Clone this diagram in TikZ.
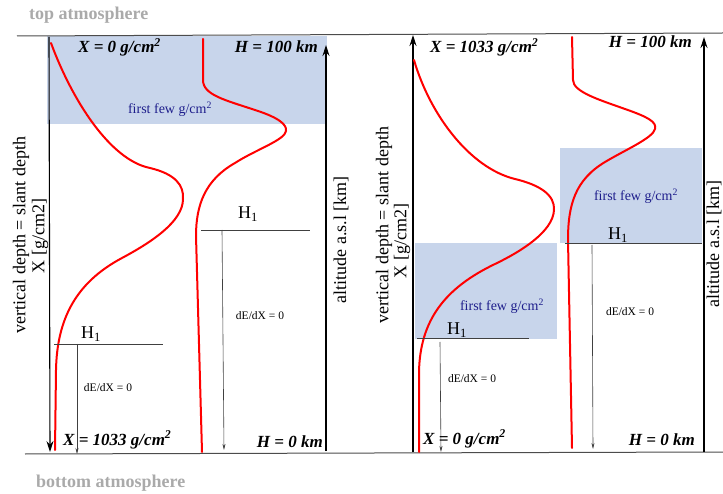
\documentclass[tikz,border=0pt]{standalone}
\usepackage{fontspec}
\setmainfont{Liberation Serif}
\usetikzlibrary{arrows.meta}

\definecolor{bandblue}{RGB}{200,213,235}
\definecolor{bandtext}{RGB}{30,30,140}
\definecolor{edgegray}{RGB}{170,170,170}

\begin{document}
\begin{tikzpicture}[
    x=1pt, y=-1pt,
    >=Stealth,
    % Styles for the drawing
    profile/.style={draw=red, line width=2pt, line cap=round},
    band/.style={fill=bandblue, draw=none},
    axis/.style={draw=black, line width=1.1pt},
    level/.style={draw=black!75, line width=0.9pt},
    drop/.style={draw=black!75, line width=0.6pt, -{Stealth[length=6pt,width=3pt]}},
    limit/.style={draw=black!70, line width=1pt},
    % Styles for the texts
    edgelab/.style={font=\fontsize{18}{20}\selectfont\bfseries, text=edgegray, inner sep=0pt},
    boundlab/.style={font=\fontsize{17}{19}\selectfont\bfseries\itshape, inner sep=0pt},
    axislab/.style={font=\fontsize{18}{20}\selectfont, rotate=90, inner sep=0pt, align=center},
    hlab/.style={font=\fontsize{18}{20}\selectfont, inner sep=0pt},
    fewlab/.style={font=\fontsize{14}{16}\selectfont, text=bandtext, inner sep=0pt},
    slopelab/.style={font=\fontsize{11.5}{13}\selectfont, inner sep=0pt}
]
    \useasboundingbox (0,0) rectangle (723,494);

    % =========================================================================
    % 1. SHADED BANDS (first few g/cm2)
    % =========================================================================
    \fill[band] (47,36) rectangle (327,124);
    \fill[band] (560,148) rectangle (702,243);
    \fill[band] (415,243) rectangle (557,339);

    % =========================================================================
    % 2. TOP AND BOTTOM OF THE ATMOSPHERE
    % =========================================================================
    \coordinate (top_w) at (17,36);
    \coordinate (top_e) at (723,33);
    \coordinate (bot_w) at (25,454);
    \coordinate (bot_e) at (723,452);
    \draw[limit] (top_w) -- (top_e);
    \draw[limit] (bot_w) -- (bot_e);

    \node[edgelab, anchor=base west] (top_lab) at (29,20) {top atmosphere};
    \node[edgelab, anchor=base west] (bot_lab) at (36,487) {bottom atmosphere};

    % =========================================================================
    % 3. LEFT PANEL: DEPTH DOWNWARDS, ALTITUDE UPWARDS
    % =========================================================================
    % Axes
    \coordinate (l_x_top) at (49,37);
    \coordinate (l_x_bot) at (50,452);
    \coordinate (l_h_bot) at (326,451);
    \coordinate (l_h_top) at (326,45);
    \draw[axis, -{Stealth[length=11pt,width=7pt]}] (l_x_top) -- (l_x_bot);
    \draw[axis, -{Stealth[length=11pt,width=7pt]}] (l_h_bot) -- (l_h_top);

    \node[axislab] (l_depth) at (21,235) {vertical depth = slant depth};
    \node[axislab] (l_unit) at (40,236) {X [g/cm2]};
    \node[axislab] (l_alt) at (341,240) {altitude a.s.l [km]};

    % Energy deposit profiles
    \draw[profile] (51,43) .. controls (72,100) and (110,160) .. (150,168)
        .. controls (175,174) and (184,185) .. (183,199)
        .. controls (183,222) and (150,243) .. (122,258)
        .. controls (75,283) and (57,320) .. (56,370) -- (55,450);
    \draw[profile] (203,39) -- (203,80)
        .. controls (203,95) and (225,100) .. (255,110)
        .. controls (280,118) and (287,125) .. (286,131)
        .. controls (285,140) and (255,150) .. (235,163)
        .. controls (205,180) and (196,205) .. (196,236) -- (202,452);

    % H1 levels with dE/dX = 0 below
    \coordinate (l_h1_w) at (54,344);
    \coordinate (l_h1_e) at (163,344);
    \coordinate (l_drop_top) at (77,344);
    \coordinate (l_drop_bot) at (77,454);
    \draw[level] (l_h1_w) -- (l_h1_e);
    \draw[drop] (l_drop_top) -- (l_drop_bot);
    \node[hlab] (l_h1) at (91,334) {H\textsubscript{1}};
    \node[slopelab] (l_slope) at (108,388) {dE/dX = 0};

    \coordinate (m_h1_w) at (201,230);
    \coordinate (m_h1_e) at (310,230);
    \coordinate (m_drop_top) at (222,230);
    \coordinate (m_drop_bot) at (224,450);
    \draw[level] (m_h1_w) -- (m_h1_e);
    \draw[drop] (m_drop_top) -- (m_drop_bot);
    \node[hlab] (m_h1) at (248,214) {H\textsubscript{1}};
    \node[slopelab] (m_slope) at (260,316) {dE/dX = 0};

    \node[fewlab] (l_few) at (170,109) {first few g/cm\textsuperscript{2}};

    % Boundary values
    \node[boundlab, anchor=base west] (l_x0) at (78,53) {X = 0 g/cm\textsuperscript{2}};
    \node[boundlab, anchor=base east] (l_h100) at (318,53) {H = 100 km};
    \node[boundlab, anchor=base west] (l_x1033) at (63,445) {X = 1033 g/cm\textsuperscript{2}};
    \node[boundlab, anchor=base east] (l_h0) at (323,447) {H = 0 km};

    % =========================================================================
    % 4. RIGHT PANEL: DEPTH UPWARDS, ALTITUDE UPWARDS
    % =========================================================================
    % Axes
    \coordinate (r_x_bot) at (413,452);
    \coordinate (r_x_top) at (413,35);
    \coordinate (r_h_bot) at (704,452);
    \coordinate (r_h_top) at (704,37);
    \draw[axis, -{Stealth[length=11pt,width=7pt]}] (r_x_bot) -- (r_x_top);
    \draw[axis, -{Stealth[length=11pt,width=7pt]}] (r_h_bot) -- (r_h_top);

    \node[axislab] (r_depth) at (384,225) {vertical depth = slant depth};
    \node[axislab] (r_unit) at (402,241) {X [g/cm2]};
    \node[axislab] (r_alt) at (714,244) {altitude a.s.l [km]};

    % Energy deposit profiles
    \draw[profile] (414,60) .. controls (430,115) and (470,168) .. (515,179)
        .. controls (540,185) and (555,195) .. (554,210)
        .. controls (553,232) and (520,252) .. (495,264)
        .. controls (445,288) and (420,320) .. (419,372) -- (419,452);
    \draw[profile] (572,37) -- (573,80)
        .. controls (573,92) and (600,100) .. (625,109)
        .. controls (648,117) and (657,122) .. (655,129)
        .. controls (653,138) and (625,150) .. (605,162)
        .. controls (575,180) and (568,205) .. (568,240) -- (572,448);

    % H1 levels with dE/dX = 0 below
    \coordinate (rl_h1_w) at (417,338);
    \coordinate (rl_h1_e) at (529,338);
    \coordinate (rl_drop_top) at (440,342);
    \coordinate (rl_drop_bot) at (441,452);
    \draw[level] (rl_h1_w) -- (rl_h1_e);
    \draw[drop] (rl_drop_top) -- (rl_drop_bot);
    \node[hlab] (rl_h1) at (457,330) {H\textsubscript{1}};
    \node[slopelab] (rl_slope) at (472,379) {dE/dX = 0};

    \coordinate (rm_h1_w) at (565,243);
    \coordinate (rm_h1_e) at (702,243);
    \coordinate (rm_drop_top) at (592,245);
    \coordinate (rm_drop_bot) at (593,449);
    \draw[level] (rm_h1_w) -- (rm_h1_e);
    \draw[drop] (rm_drop_top) -- (rm_drop_bot);
    \node[hlab] (rm_h1) at (618,235) {H\textsubscript{1}};
    \node[slopelab] (rm_slope) at (630,312) {dE/dX = 0};

    \node[fewlab] (rl_few) at (502,306) {first few g/cm\textsuperscript{2}};
    \node[fewlab] (rm_few) at (636,196) {first few g/cm\textsuperscript{2}};

    % Boundary values
    \node[boundlab, anchor=base west] (r_x1033) at (430,53) {X = 1033 g/cm\textsuperscript{2}};
    \node[boundlab, anchor=base east] (r_h100) at (692,48) {H = 100 km};
    \node[boundlab, anchor=base west] (r_x0) at (423,444) {X = 0 g/cm\textsuperscript{2}};
    \node[boundlab, anchor=base east] (r_h0) at (695,445) {H = 0 km};

\end{tikzpicture}
\end{document}
